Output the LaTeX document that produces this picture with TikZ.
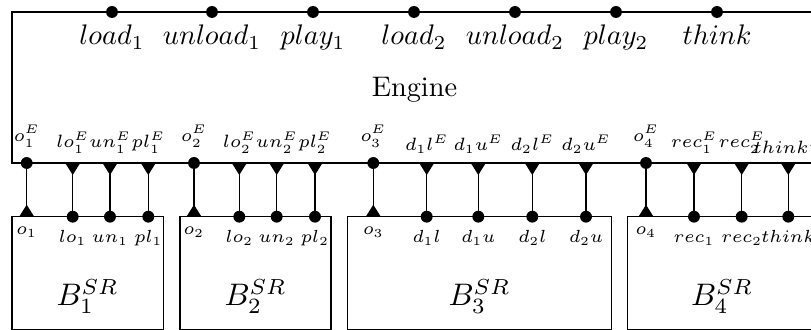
\RequirePackage{fix-cm}
\documentclass[tikz,border=0pt]{standalone}
\begin{document}
\begin{tikzpicture}[x=0.3533pt,y=-0.3533pt,
  frame/.style={draw=black,line width=0.4pt},
  conn/.style={draw=black,line width=0.4pt},
  toplabel/.style={anchor=base,inner sep=0pt,font=\normalsize},
  elabel/.style={anchor=south,inner sep=0pt,font=\fontsize{6.3pt}{7.5pt}\selectfont},
  blabel/.style={anchor=base,inner sep=0pt,font=\fontsize{6.2pt}{7.5pt}\selectfont},
  engname/.style={anchor=base,inner sep=0pt,font=\normalsize},
  bigname/.style={anchor=base,inner sep=0pt,font=\fontsize{11pt}{13pt}\selectfont}]
\useasboundingbox (0,0) rectangle (811,330);
\clip (0,0) rectangle (811,330);
% Engine frame
\draw[frame] (12,12) rectangle (817,163);
\node[engname] (engine) at (414.5,97) {Engine};
% top ports
\foreach \n/\x/\t in {t1/112/load_1,t2/212/unload_1,t3/313/play_1,t4/414/load_2,t5/515/unload_2,t6/616/play_2,t7/717/think}{
  \coordinate (\n) at (\x,12);
  \fill (\n) circle[radius=2.1pt];
  \node[toplabel] (\n l) at (\x,45) {$\t$};
}
% bottom boxes
\draw[frame] (12,216.7) rectangle (163.3,330);
\draw[frame] (180,216.7) rectangle (331,330);
\draw[frame] (347.3,216.7) rectangle (611.7,330);
\draw[frame] (627.3,216.7) rectangle (817,330);
\node[bigname] (B1) at (87.5,306) {$B_1^{SR}$};
\node[bigname] (B2) at (255.5,306) {$B_2^{SR}$};
\node[bigname] (B3) at (479.5,306) {$B_3^{SR}$};
\node[bigname] (B4) at (722,306) {$B_4^{SR}$};
% o ports: dot at engine, up triangle at box
\foreach \n/\x/\a in {o1/26.7/o_1,o2/194/o_2,o3/373.3/o_3,o4/646/o_4}{
  \coordinate (e\n) at (\x,163);
  \coordinate (b\n) at (\x,216.7);
  \draw[conn] (e\n) -- (b\n);
  \fill (e\n) circle[radius=2.1pt];
  \fill (b\n) ++(-7.5,0) -- ++(15,0) -- ++(-7.5,-12) -- cycle;
  \node[elabel] (l\n) at (\x,148) {$\a^E$};
  \node[blabel] (m\n) at (\x,235) {$\a$};
}
% other ports: down triangle at engine, dot at box
\foreach \n/\x/\a in {lo1/72.7/lo_1,un1/110/un_1,pl1/148.3/pl_1,lo2/239.3/lo_2,un2/276.7/un_2,pl2/315/pl_2,d1l/426.7/d_1l,d1u/478.3/d_1u,d2l/532.3/d_2l,d2u/586/d_2u,rec1/694/rec_1,rec2/741.7/rec_2,th/788.3/think}{
  \coordinate (e\n) at (\x,163);
  \coordinate (b\n) at (\x,216.7);
  \draw[conn] (e\n) -- (b\n);
  \fill (e\n) ++(-7.5,0) -- ++(15,0) -- ++(-7.5,12) -- cycle;
  \fill (b\n) circle[radius=2.1pt];
  \node[elabel] (l\n) at (\x,154.5) {$\a^E$};
  \node[blabel] (m\n) at (\x,243) {$\a$};
}
\end{tikzpicture}
\end{document}
